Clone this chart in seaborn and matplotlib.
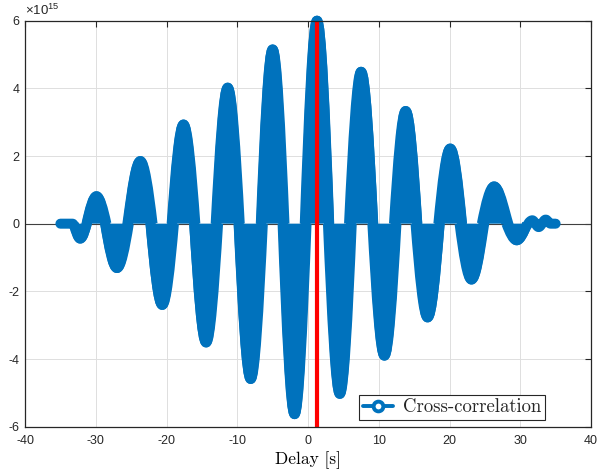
import numpy as np
import pandas as pd
import matplotlib
matplotlib.use("Agg")
import matplotlib.pyplot as plt
import seaborn as sns
from matplotlib.path import Path
from matplotlib.patches import PathPatch
from matplotlib.lines import Line2D
from matplotlib.legend_handler import HandlerLine2D

# ---- data (extrema of the cross-correlation, units of 1e15) ----
lags = [-35.0, -33.3, -32.2, -29.9, -27.0, -23.7, -20.6, -17.6, -14.4, -11.35,
        -8.1, -5.0, -1.9, 1.27, 4.5, 7.5, 10.8, 13.8, 16.9, 20.1,
        23.1, 26.3, 29.5, 31.7, 32.6, 33.6, 34.3, 35.0]
values = [0.0, 0.0, -0.44, 0.81, -1.31, 1.85, -2.40, 2.93, -3.51, 4.02,
          -4.59, 5.15, -5.63, 6.0, -5.03, 4.49, -3.90, 3.33, -2.77, 2.22,
          -1.65, 1.10, -0.49, 0.10, -0.10, 0.12, 0.0, 0.0]
delay_est = 1.3
xticks = [-40, -30, -20, -10, 0, 10, 20, 30, 40]
yticks = [-6, -4, -2, 0, 2, 4, 6]
legend_label = "Cross-correlation"
xlabel = "Delay [s]"

df = pd.DataFrame({"lag": lags, "value": values})

sns.set_style("whitegrid")
plt.rcParams["font.family"] = ["Liberation Sans", "DejaVu Sans"]
plt.rcParams["mathtext.fontset"] = "custom"
plt.rcParams["mathtext.rm"] = "Liberation Sans"
plt.rcParams["mathtext.it"] = "Liberation Sans"

BLUE = "#0072BD"
DARK = "#262626"
LW = 7.2

fig = plt.figure(figsize=(6.0, 4.71), dpi=100)
ax = fig.add_axes([0.0417, 0.0941, 0.9433, 0.862])
ax.set_facecolor("white")

# zero line
ax.axhline(0, color="#404040", lw=0.8, zorder=1)

# continuous thick trace through all extrema (gives the tails / wiggles)
k = 0.36
verts = [(df.lag.iloc[0], df.value.iloc[0])]
codes = [Path.MOVETO]
for i in range(len(df) - 1):
    x0, y0 = df.lag.iloc[i], df.value.iloc[i]
    x1, y1 = df.lag.iloc[i + 1], df.value.iloc[i + 1]
    dx = x1 - x0
    verts += [(x0 + k * dx, y0), (x1 - k * dx, y1), (x1, y1)]
    codes += [Path.CURVE4] * 3
ax.add_patch(PathPatch(Path(verts, codes), facecolor="none", edgecolor=BLUE, lw=LW,
                       joinstyle="round", capstyle="round", zorder=3, clip_on=False))

# filled lobes (the dense oscillation fills each lobe down to zero)
for i in range(1, len(df) - 1):
    c, v = df.lag.iloc[i], df.value.iloc[i]
    if abs(v) < 0.3:
        continue
    h = 0.54 * (df.lag.iloc[i + 1] - df.lag.iloc[i - 1]) / 2
    s = 0.55
    curve = [(c - h, 0), (c - 2 * h / 3, s * v), (c - h / 3, v), (c, v),
             (c + h / 3, v), (c + 2 * h / 3, s * v), (c + h, 0)]
    ccodes = [Path.MOVETO] + [Path.CURVE4] * 6
    ax.add_patch(PathPatch(Path(curve + [(c - h, 0), (c - h, 0)],
                                ccodes + [Path.LINETO, Path.CLOSEPOLY]),
                           facecolor=BLUE, edgecolor="none", lw=0, zorder=3, clip_on=False))
    ax.add_patch(PathPatch(Path(curve, ccodes), facecolor="none", edgecolor=BLUE, lw=LW,
                           joinstyle="round", capstyle="butt", zorder=3, clip_on=False))

# estimated delay
ax.axvline(delay_est, color="#FF0000", lw=3, zorder=4)

ax.set_xlim(-40, 40)
ax.set_ylim(-6, 6)
ax.set_xticks(xticks)
ax.set_yticks(yticks)
ax.set_xticklabels([str(t) for t in xticks])
ax.set_yticklabels([str(t) for t in yticks])
ax.tick_params(direction="in", length=4, width=0.8, top=True, right=True,
               labelsize=9, colors=DARK)
ax.tick_params(axis="x", pad=6)
ax.tick_params(axis="y", pad=4)
ax.grid(True, color="#dedede", lw=0.7)
for s_ in ax.spines.values():
    s_.set_color(DARK)
    s_.set_linewidth(0.9)
    s_.set_zorder(5)

ax.set_xlabel(xlabel, fontfamily="cmr10", fontsize=12.5, color="black", labelpad=3)
ax.text(0.0, 1.006, r"$\times10^{15}$", transform=ax.transAxes, fontsize=9.5,
        ha="left", va="bottom", color=DARK)


class EndMarkerHandler(HandlerLine2D):
    def get_xdata(self, legend, xdescent, ydescent, width, height, fontsize):
        xdata = np.array([-xdescent, -xdescent + width])
        return xdata, np.array([-xdescent + width])


handle = Line2D([0], [0], color=BLUE, lw=2.8, marker="o", markersize=7,
                markerfacecolor="white", markeredgecolor=BLUE, markeredgewidth=2.8)
leg = ax.legend([handle], [legend_label], loc="lower right",
                bbox_to_anchor=(0.919, 0.0165), handler_map={Line2D: EndMarkerHandler()},
                prop={"family": "cmr10", "size": 13.5}, fancybox=False, framealpha=1,
                edgecolor=DARK, handlelength=1.6, handletextpad=0.55, borderpad=0.2,
                borderaxespad=0)
leg.get_frame().set_linewidth(0.8)
leg.set_zorder(6)

fig.savefig("out.png", dpi=100)
